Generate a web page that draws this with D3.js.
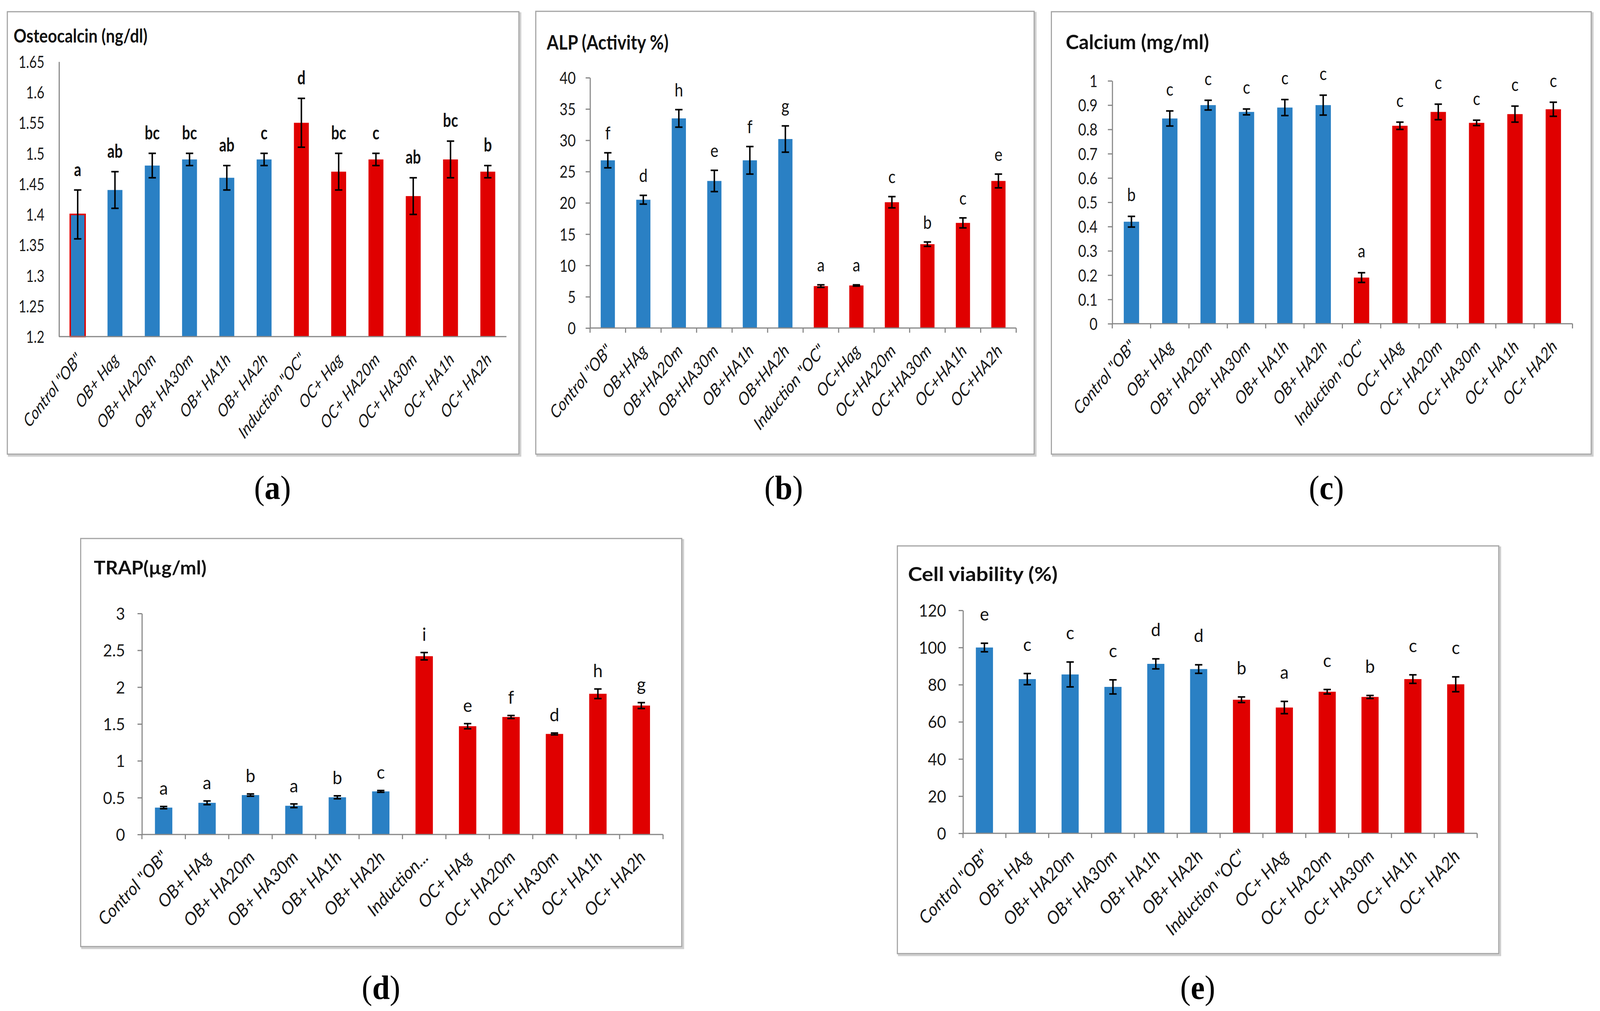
<!DOCTYPE html>
<html>
<head>
<meta charset="utf-8">
<script src="https://cdn.jsdelivr.net/npm/d3@7"></script>
<style>
  html, body { margin: 0; padding: 0; overflow: hidden; background: #fff; }
  #fig { display: block; width: 100vw; height: 100vh; }
</style>
</head>
<body>
<svg id="fig" viewBox="0 0 4363 2589" preserveAspectRatio="none"></svg>
<script>
// ---- data ----
var groups = ["OB","OB","OB","OB","OB","OB","OC","OC","OC","OC","OC","OC"];

var catsOsteo = ['Control "OB"', 'OB+ Hag', 'OB+ HA20m', 'OB+ HA30m', 'OB+ HA1h', 'OB+ HA2h',
                 'Induction "OC"', 'OC+ Hag', 'OC+ HA20m', 'OC+ HA30m', 'OC+ HA1h', 'OC+ HA2h'];
var osteoMean = [1.40, 1.44, 1.48, 1.49, 1.46, 1.49, 1.55, 1.47, 1.49, 1.43, 1.49, 1.47];
var osteoSd   = [0.04, 0.03, 0.02, 0.01, 0.02, 0.01, 0.04, 0.03, 0.01, 0.03, 0.03, 0.01];
var osteoLetters = ["a","ab","bc","bc","ab","c","d","bc","c","ab","bc","b"];
var osteoTicks = [1.2, 1.25, 1.3, 1.35, 1.4, 1.45, 1.5, 1.55, 1.6, 1.65];

var catsAlp = ['Control "OB"', 'OB+HAg', 'OB+HA20m', 'OB+HA30m', 'OB+HA1h', 'OB+HA2h',
               'Induction "OC"', 'OC+Hag', 'OC+HA20m', 'OC+HA30m', 'OC+HA1h', 'OC+HA2h'];
var alpMean = [26.8, 20.5, 33.5, 23.5, 26.8, 30.2, 6.7, 6.8, 20.1, 13.4, 16.8, 23.5];
var alpSd   = [1.2, 0.7, 1.4, 1.7, 2.2, 2.1, 0.2, 0.1, 0.9, 0.35, 0.8, 1.1];
var alpLetters = ["f","d","h","e","f","g","a","a","c","b","c","e"];
var alpTicks = [0, 5, 10, 15, 20, 25, 30, 35, 40];

var catsCa = ['Control "OB"', 'OB+ HAg', 'OB+ HA20m', 'OB+ HA30m', 'OB+ HA1h', 'OB+ HA2h',
              'Induction "OC"', 'OC+ HAg', 'OC+ HA20m', 'OC+ HA30m', 'OC+ HA1h', 'OC+ HA2h'];
var caMean = [0.42, 0.845, 0.90, 0.872, 0.89, 0.90, 0.19, 0.815, 0.872, 0.827, 0.863, 0.883];
var caSd   = [0.022, 0.031, 0.02, 0.012, 0.033, 0.041, 0.02, 0.015, 0.032, 0.011, 0.033, 0.029];
var caLetters = ["b","c","c","c","c","c","a","c","c","c","c","c"];
var caTicks = [0, 0.1, 0.2, 0.3, 0.4, 0.5, 0.6, 0.7, 0.8, 0.9, 1];

var catsTrap = ['Control "OB"', 'OB+ HAg', 'OB+ HA20m', 'OB+ HA30m', 'OB+ HA1h', 'OB+ HA2h',
                'Induction...', 'OC+ HAg', 'OC+ HA20m', 'OC+ HA30m', 'OC+ HA1h', 'OC+ HA2h'];
var trapMean = [0.365, 0.43, 0.535, 0.39, 0.505, 0.585, 2.42, 1.47, 1.595, 1.365, 1.91, 1.75];
var trapSd   = [0.015, 0.025, 0.015, 0.025, 0.02, 0.012, 0.05, 0.035, 0.02, 0.012, 0.065, 0.04];
var trapLetters = ["a","a","b","a","b","c","i","e","f","d","h","g"];
var trapTicks = [0, 0.5, 1, 1.5, 2, 2.5, 3];

var catsViab = ['Control "OB"', 'OB+ HAg', 'OB+ HA20m', 'OB+ HA30m', 'OB+ HA1h', 'OB+ HA2h',
                'Induction "OC"', 'OC+ HAg', 'OC+ HA20m', 'OC+ HA30m', 'OC+ HA1h', 'OC+ HA2h'];
var viabMean = [100, 83, 85.5, 78.8, 91.2, 88.4, 71.9, 67.7, 76.2, 73.4, 83, 80.2];
var viabSd   = [2.3, 3, 6.7, 3.8, 2.7, 2.3, 1.5, 3.3, 1.2, 0.8, 2.3, 4];
var viabLetters = ["e","c","c","c","d","d","b","a","c","b","c","c"];
var viabTicks = [0, 20, 40, 60, 80, 100, 120];

// ---- layout ----
var FONT = "Lato, 'Open Sans', sans-serif";
var colors = {OB: "#2A80C4", OC: "#E00000"};
var axisColor = "#868686";

var panels = [
  {title: "Osteocalcin (ng/dl)", cats: catsOsteo, mean: osteoMean, sd: osteoSd, letters: osteoLetters,
   ticks: osteoTicks, domain: [1.2, 1.65], box: [20, 30, 1415, 1163], plot: [161, 158, 1381, 862],
   titleAt: [37, 109, 365, 48], sx: 0.83, ticksOn: false, boldLetters: true, letterGap: 36,
   tickGap: 40, outlineFirst: true, label: ["a", 743, 1278]},
  {title: "ALP (Activity %)", cats: catsAlp, mean: alpMean, sd: alpSd, letters: alpLetters,
   ticks: alpTicks, domain: [0, 40], box: [1461, 29, 2820, 1163], plot: [1609, 199, 2771, 840],
   titleAt: [1491, 127, 332, 52], sx: 0.885, ticksOn: true, boldLetters: false, letterGap: 34,
   tickGap: 39, label: ["b", 2137, 1278]},
  {title: "Calcium (mg/ml)", cats: catsCa, mean: caMean, sd: caSd, letters: caLetters,
   ticks: caTicks, domain: [0, 1], box: [2867, 30, 4339, 1163], plot: [3033, 207, 4288, 829],
   titleAt: [2906, 126, 391, 51], sx: 0.885, ticksOn: true, boldLetters: false, letterGap: 39,
   tickGap: 40, label: ["c", 3617, 1278]},
  {title: "TRAP(\u00b5g/ml)", cats: catsTrap, mean: trapMean, sd: trapSd, letters: trapLetters,
   ticks: trapTicks, domain: [0, 3], box: [220, 1379, 1859, 2424], plot: [387, 1571, 1808, 2137],
   titleAt: [256, 1471, 307, 47], sx: 1, ticksOn: true, boldLetters: false, letterGap: 30,
   tickGap: 46, label: ["d", 1039, 2558]},
  {title: "Cell viability (%)", cats: catsViab, mean: viabMean, sd: viabSd, letters: viabLetters,
   ticks: viabTicks, domain: [0, 120], box: [2447, 1398, 4087, 2442], plot: [2626, 1563, 4028, 2134],
   titleAt: [2476, 1488, 408, 49], sx: 1, ticksOn: true, boldLetters: false, letterGap: 58,
   tickGap: 46, label: ["e", 3266, 2558]}
];

var svg = d3.select("#fig");
svg.append("rect").attr("width", 4363).attr("height", 2589).attr("fill", "#fff");

function drawPanel(p) {
  var g = svg.append("g");
  var b = p.box;

  // frame with a soft shadow on the right and bottom
  g.append("rect")
    .attr("x", b[0] + 4).attr("y", b[1] + 4)
    .attr("width", b[2] - b[0]).attr("height", b[3] - b[1])
    .attr("fill", "none").attr("stroke", "#cfcfcf").attr("stroke-width", 5);
  g.append("rect")
    .attr("x", b[0]).attr("y", b[1])
    .attr("width", b[2] - b[0]).attr("height", b[3] - b[1])
    .attr("fill", "#fff").attr("stroke", "#a3a3a3").attr("stroke-width", 3);

  var x = d3.scaleBand().domain(p.cats)
    .range([p.plot[0], p.plot[2]])
    .paddingInner(0.6).paddingOuter(0.3);
  var y = d3.scaleLinear().domain(p.domain).range([p.plot[3], p.plot[1]]);
  var base = y(p.domain[0]);
  var cx = function (i) { return x(p.cats[i]) + x.bandwidth() / 2; };

  // title
  g.append("text")
    .attr("x", p.titleAt[0]).attr("y", p.titleAt[1])
    .attr("font-family", FONT).attr("font-weight", "bold")
    .attr("font-size", p.titleAt[3]).attr("fill", "#111")
    .attr("textLength", p.titleAt[2]).attr("lengthAdjust", "spacingAndGlyphs")
    .text(p.title);

  // bars
  g.selectAll("rect.bar").data(p.mean).join("rect")
    .attr("class", "bar")
    .attr("x", (d, i) => x(p.cats[i]))
    .attr("width", x.bandwidth())
    .attr("y", d => y(d))
    .attr("height", d => base - y(d))
    .attr("fill", (d, i) => colors[groups[i]])
    .attr("stroke", (d, i) => (p.outlineFirst && i === 0) ? colors.OC : "none")
    .attr("stroke-width", 4);

  // y axis
  var yAxis = d3.axisLeft(y)
    .tickValues(p.ticks)
    .tickFormat(d => String(+d.toFixed(2)))
    .tickSizeOuter(0)
    .tickSizeInner(p.ticksOn ? 12 : 0);
  var ya = g.append("g").attr("transform", `translate(${p.plot[0]},0)`).call(yAxis);
  ya.select(".domain").attr("stroke", axisColor).attr("stroke-width", 3);
  ya.selectAll(".tick line").attr("stroke", axisColor).attr("stroke-width", 3);
  ya.selectAll(".tick text")
    .attr("x", null).attr("dy", "0.36em")
    .attr("transform", `translate(${-p.tickGap},0) scale(${p.sx},1)`)
    .attr("font-family", FONT).attr("font-size", 43).attr("fill", "#1a1a1a");

  // x axis line and category boundary ticks
  g.append("line")
    .attr("x1", p.plot[0]).attr("x2", p.plot[2])
    .attr("y1", base).attr("y2", base)
    .attr("stroke", axisColor).attr("stroke-width", 3);
  if (p.ticksOn) {
    g.selectAll("line.xt").data(d3.range(p.cats.length + 1)).join("line")
      .attr("class", "xt")
      .attr("x1", i => p.plot[0] + i * x.step())
      .attr("x2", i => p.plot[0] + i * x.step())
      .attr("y1", base).attr("y2", base + 12)
      .attr("stroke", axisColor).attr("stroke-width", 3);
  }

  // error bars
  var eb = g.selectAll("g.err").data(p.mean).join("g").attr("class", "err")
    .attr("stroke", "#000").attr("stroke-width", 4);
  eb.append("line")
    .attr("x1", (d, i) => cx(i)).attr("x2", (d, i) => cx(i))
    .attr("y1", (d, i) => y(d + p.sd[i])).attr("y2", (d, i) => y(d - p.sd[i]));
  [1, -1].forEach(function (s) {
    eb.append("line")
      .attr("x1", (d, i) => cx(i) - 10).attr("x2", (d, i) => cx(i) + 10)
      .attr("y1", (d, i) => y(d + s * p.sd[i])).attr("y2", (d, i) => y(d + s * p.sd[i]));
  });

  // significance letters
  g.selectAll("text.let").data(p.letters).join("text")
    .attr("class", "let")
    .attr("text-anchor", "middle")
    .attr("transform", (d, i) =>
      `translate(${cx(i)},${y(p.mean[i] + p.sd[i]) - p.letterGap}) scale(${p.sx},1)`)
    .attr("font-family", FONT).attr("font-size", 47)
    .attr("font-weight", p.boldLetters ? "bold" : "normal")
    .attr("fill", "#111")
    .text(d => d);

  // rotated category labels
  g.selectAll("text.xl").data(p.cats).join("text")
    .attr("class", "xl")
    .attr("text-anchor", "end")
    .attr("dy", "0.35em")
    .attr("transform", (d, i) =>
      `translate(${cx(i) + 3},${base + 50}) scale(${p.sx},1) rotate(-45)`)
    .attr("font-family", FONT).attr("font-style", "italic")
    .attr("font-size", 46).attr("fill", "#1a1a1a")
    .text(d => d);

  // panel letter below the frame
  var lab = svg.append("text")
    .attr("x", p.label[1]).attr("y", p.label[2])
    .attr("text-anchor", "middle")
    .attr("font-family", "'Liberation Serif', 'DejaVu Serif', serif")
    .attr("font-size", 86).attr("fill", "#000");
  lab.append("tspan").text("(");
  lab.append("tspan").attr("font-weight", "bold").text(p.label[0]);
  lab.append("tspan").text(")");
}

panels.forEach(drawPanel);
</script>
</body>
</html>
